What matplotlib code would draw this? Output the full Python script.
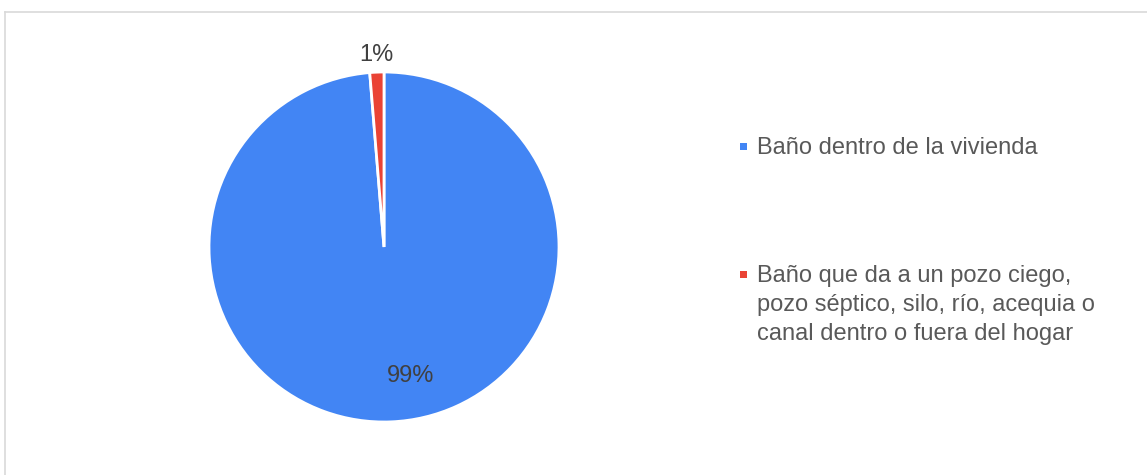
import numpy as np
import matplotlib
matplotlib.use("Agg")
import matplotlib.pyplot as plt
from matplotlib.lines import Line2D
from matplotlib.patches import Rectangle

# Data
categories = [
    "Baño dentro de la vivienda",
    "Baño que da a un pozo ciego,\npozo séptico, silo, río, acequia o\ncanal dentro o fuera del hogar",
]
values = [98.7, 1.3]
colors = ["#4285F4", "#EA4335"]

plt.rcParams["font.family"] = ["Liberation Sans", "DejaVu Sans"]

W, H = 1147, 475
fig = plt.figure(figsize=(W / 100, H / 100), dpi=100)

# Chart area border (top and left edges visible)
border_col = "#D9D9D9"
fig.add_artist(Line2D([4.5 / W, 4.5 / W], [0, 1 - 12 / H], transform=fig.transFigure,
                      color=border_col, lw=1.2))
fig.add_artist(Line2D([4.5 / W, 1], [1 - 12 / H, 1 - 12 / H], transform=fig.transFigure,
                      color=border_col, lw=1.2))

# Pie
cx, cy, r = 384, 247, 175
ax = fig.add_axes([(cx - r) / W, (H - cy - r) / H, 2 * r / W, 2 * r / H])
wedges, _ = ax.pie(values, colors=colors, startangle=90, counterclock=False,
                   wedgeprops=dict(edgecolor="white", linewidth=2.0))
ax.set_xlim(-1, 1)
ax.set_ylim(-1, 1)
ax.set_aspect("equal")
ax.axis("off")

# Percentage labels
total = sum(values)
label_color = "#404040"
label_pos = [(0.15, -0.74), None]
for i, (w, v) in enumerate(zip(wedges, values)):
    txt = f"{v / total * 100:.0f}%"
    if label_pos[i] is not None:
        x, y = label_pos[i]
    else:
        ang = np.deg2rad((w.theta1 + w.theta2) / 2)
        x, y = 1.10 * np.cos(ang), 1.10 * np.sin(ang)
    ax.text(x, y, txt, ha="center", va="center", fontsize=17, color=label_color,
            clip_on=False)

# Legend
legend_color = "#595959"
entry_y = [146, 274]
text_x = 757
sq = 7
for cat, col, yy in zip(categories, colors, entry_y):
    fig.add_artist(Rectangle(((text_x - 17) / W, (H - yy - sq / 2) / H), sq / W, sq / H,
                             transform=fig.transFigure, facecolor=col, edgecolor="none"))
    fig.text(text_x / W, (H - yy + 9) / H, cat, ha="left", va="top", fontsize=17,
             color=legend_color, linespacing=1.4)

fig.savefig("out.png", dpi=100, facecolor="white")
